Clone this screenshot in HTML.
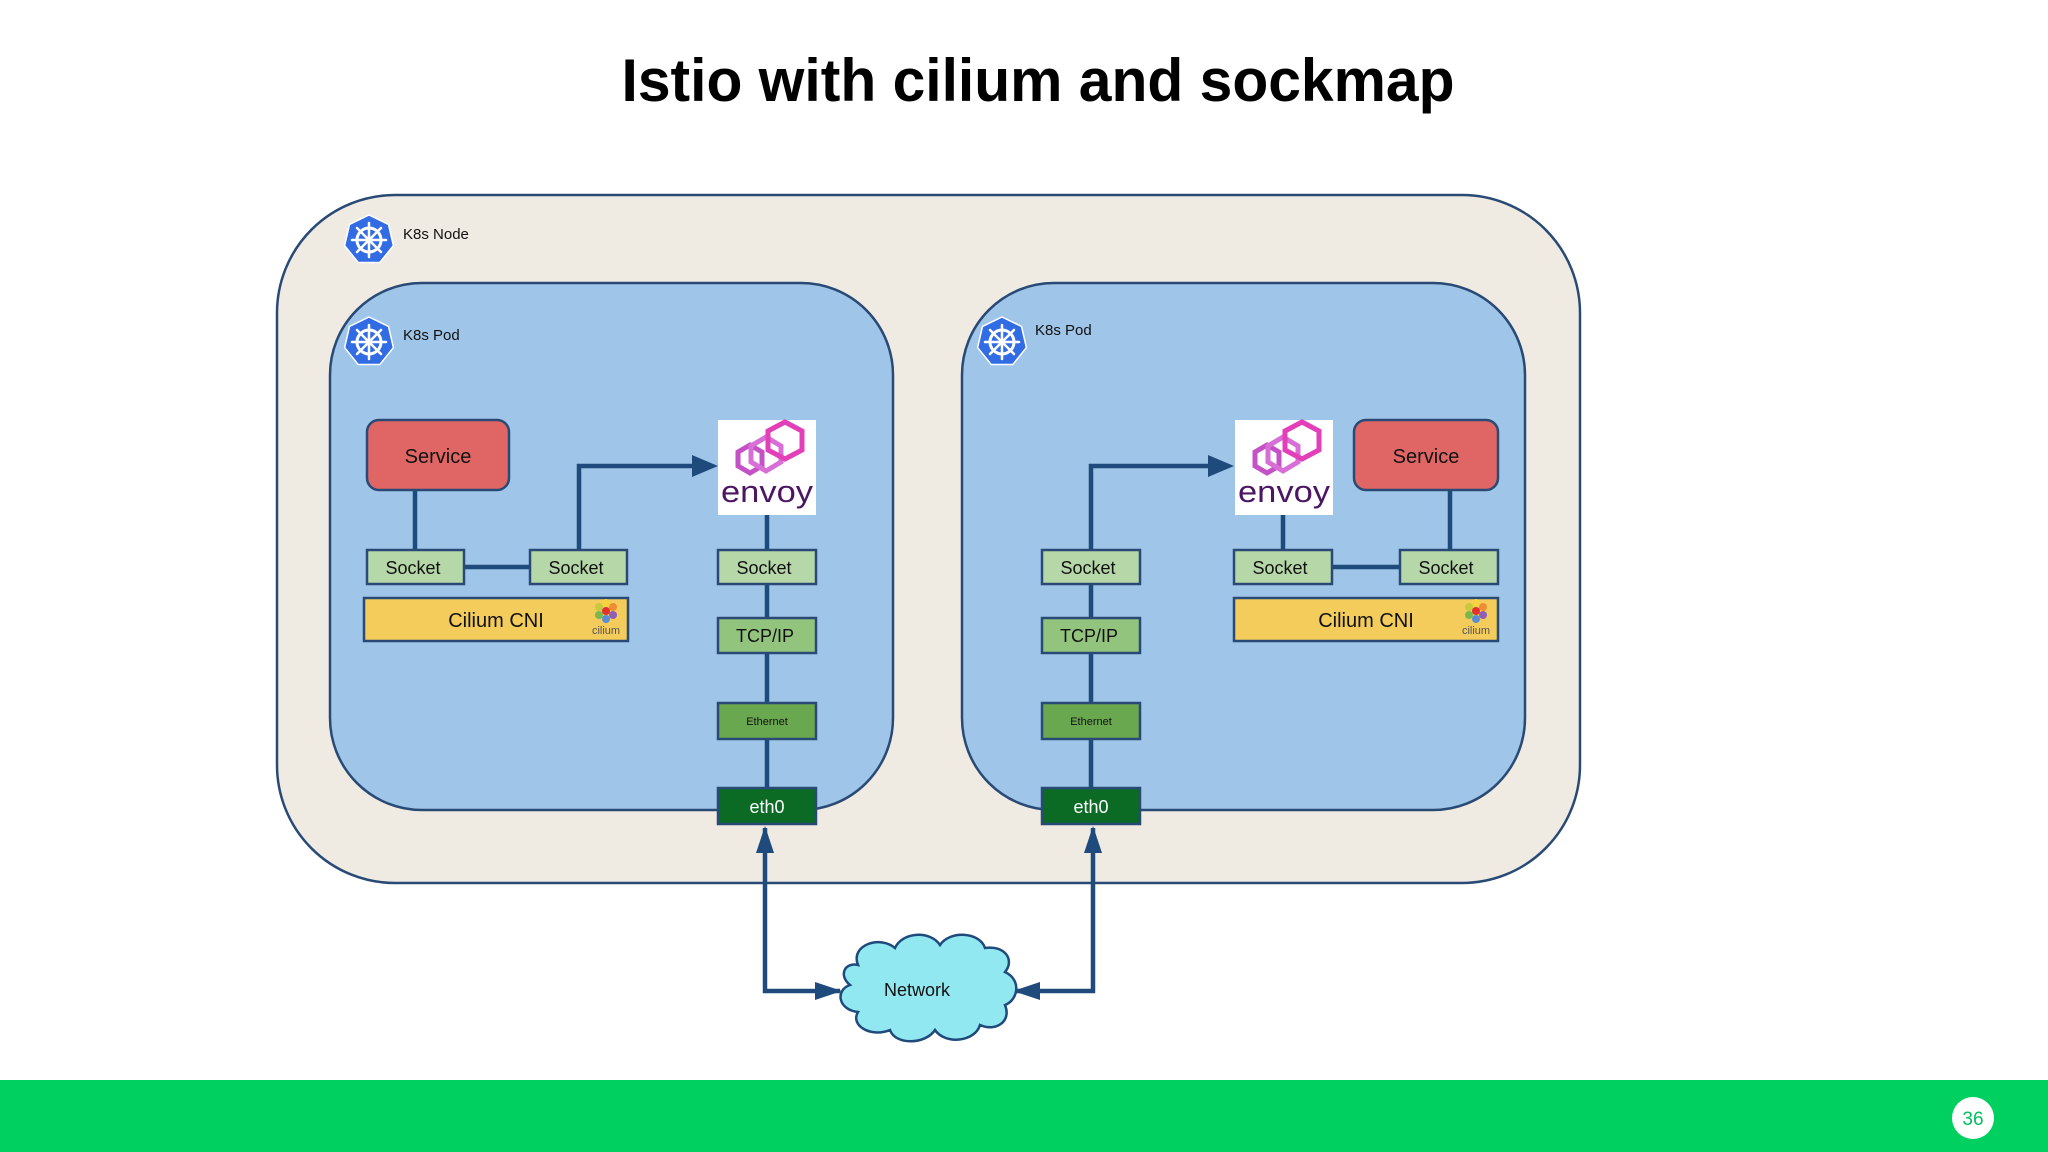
<!DOCTYPE html>
<html><head><meta charset="utf-8"><style>
html,body{margin:0;padding:0;background:#fff;}
svg{display:block;}
text{font-family:"Liberation Sans",Arial,sans-serif;}
</style></head><body>
<svg width="2048" height="1152" viewBox="0 0 2048 1152" xmlns="http://www.w3.org/2000/svg">
<defs>
<g id="k8s">
<polygon points="0,-25 19.5,-15.6 24.4,5.6 10.8,22.5 -10.8,22.5 -24.4,5.6 -19.5,-15.6" fill="#326ce5" stroke="#fff" stroke-width="1.5"/>
<circle r="12" fill="none" stroke="#fff" stroke-width="3"/>
<circle r="3.5" fill="#fff"/>
<g stroke="#fff" stroke-width="2.5" stroke-linecap="round">
<line x1="0" y1="-17" x2="0" y2="17"/><line x1="-17" y1="0" x2="17" y2="0"/>
<line x1="-12" y1="-12" x2="12" y2="12"/><line x1="12" y1="-12" x2="-12" y2="12"/>
</g>
</g>
<g id="envoy">
<rect x="0" y="0" width="98" height="95" fill="#fff"/>
<polygon points="20,32 32,25 44,32 44,46 32,53 20,46" fill="none" stroke="#c452c6" stroke-width="5"/>
<polygon points="33,26 48,17 63,26 63,42 48,51 33,42" fill="none" stroke="#d86fd6" stroke-width="5"/>
<polygon points="50,11 67,2 84,11 84,30 67,39 50,30" fill="none" stroke="#e23fb8" stroke-width="5"/>
<text x="49" y="82" font-size="31" text-anchor="middle" fill="#4b1763" textLength="92" lengthAdjust="spacingAndGlyphs">envoy</text>
</g>
<g id="cil">
<circle cx="0" cy="-9" r="4" fill="#f6d33f"/><circle cx="7" cy="-5" r="4" fill="#f08c34"/>
<circle cx="7" cy="3" r="4" fill="#8e5fb5"/><circle cx="0" cy="7" r="4" fill="#5b8dd6"/>
<circle cx="-7" cy="3" r="4" fill="#7bb84c"/><circle cx="-7" cy="-5" r="4" fill="#c9c93d"/>
<circle cx="0" cy="-1" r="4" fill="#e2322c"/>
<text x="0" y="22" font-size="11" text-anchor="middle" fill="#555">cilium</text>
</g>
</defs>

<text x="1038" y="101" font-size="60" font-weight="bold" text-anchor="middle" textLength="833" lengthAdjust="spacingAndGlyphs" fill="#000">Istio with cilium and sockmap</text>

<!-- node -->
<rect x="277" y="195" width="1303" height="688" rx="118" fill="#efebe3" stroke="#2a4a76" stroke-width="2.5"/>
<use href="#k8s" x="369" y="240"/>
<text x="403" y="239" font-size="15" fill="#111">K8s Node</text>

<!-- pods -->
<rect x="330" y="283" width="563" height="527" rx="92" fill="#9fc5e8" stroke="#2a4a76" stroke-width="2.5"/>
<rect x="962" y="283" width="563" height="527" rx="92" fill="#9fc5e8" stroke="#2a4a76" stroke-width="2.5"/>
<use href="#k8s" x="369" y="342"/>
<text x="403" y="340" font-size="15" fill="#111">K8s Pod</text>
<use href="#k8s" x="1002" y="342"/>
<text x="1035" y="335" font-size="15" fill="#111">K8s Pod</text>

<!-- connectors -->
<g stroke="#1f4a7c" stroke-width="4.5" fill="none">
<line x1="415" y1="490" x2="415" y2="550"/>
<line x1="464" y1="567" x2="530" y2="567"/>
<polyline points="579,550 579,466 700,466"/>
<line x1="767" y1="515" x2="767" y2="788"/>
<polyline points="1091,550 1091,466 1216,466"/>
<line x1="1091" y1="584" x2="1091" y2="788"/>
<line x1="1283" y1="514" x2="1283" y2="550"/>
<line x1="1332" y1="567" x2="1400" y2="567"/>
<line x1="1450" y1="490" x2="1450" y2="550"/>
<polyline points="840,991 765,991 765,828"/>
<polyline points="1015,991 1093,991 1093,828"/>
</g>
<g fill="#1f4a7c">
<polygon points="718,466 692,455 692,477"/>
<polygon points="1234,466 1208,455 1208,477"/>
<polygon points="765,826 756,853 774,853"/>
<polygon points="1093,826 1084,853 1102,853"/>
<polygon points="842,991 815,982 815,1000"/>
<polygon points="1013,991 1040,982 1040,1000"/>
</g>

<g stroke="#2a4a76" stroke-width="2.5">
<rect x="367" y="420" width="142" height="70" rx="12" fill="#e06666"/>
<rect x="367" y="550" width="97" height="34" fill="#b6d7a8"/>
<rect x="530" y="550" width="97" height="34" fill="#b6d7a8"/>
<rect x="364" y="598" width="264" height="43" fill="#f3cc5c"/>
<rect x="718" y="550" width="98" height="34" fill="#b6d7a8"/>
<rect x="718" y="618" width="98" height="35" fill="#93c47d"/>
<rect x="718" y="703" width="98" height="36" fill="#6aa84f"/>
<rect x="718" y="788" width="98" height="36" fill="#0b6b25"/>

<rect x="1354" y="420" width="144" height="70" rx="12" fill="#e06666"/>
<rect x="1042" y="550" width="98" height="34" fill="#b6d7a8"/>
<rect x="1234" y="550" width="98" height="34" fill="#b6d7a8"/>
<rect x="1400" y="550" width="98" height="34" fill="#b6d7a8"/>
<rect x="1234" y="598" width="264" height="43" fill="#f3cc5c"/>
<rect x="1042" y="618" width="98" height="35" fill="#93c47d"/>
<rect x="1042" y="703" width="98" height="36" fill="#6aa84f"/>
<rect x="1042" y="788" width="98" height="36" fill="#0b6b25"/>
</g>
<use href="#envoy" x="718" y="420"/>
<use href="#envoy" x="1235" y="420"/>
<use href="#cil" x="606" y="612"/>
<use href="#cil" x="1476" y="612"/>

<g font-size="18" fill="#111" text-anchor="middle">
<text x="438" y="463" font-size="20">Service</text>
<text x="1426" y="463" font-size="20">Service</text>
<text x="413" y="574">Socket</text>
<text x="576" y="574">Socket</text>
<text x="764" y="574">Socket</text>
<text x="1088" y="574">Socket</text>
<text x="1280" y="574">Socket</text>
<text x="1446" y="574">Socket</text>
<text x="496" y="627" font-size="20">Cilium CNI</text>
<text x="1366" y="627" font-size="20">Cilium CNI</text>
<text x="765" y="642">TCP/IP</text>
<text x="1089" y="642">TCP/IP</text>
<text x="767" y="725" font-size="11">Ethernet</text>
<text x="1091" y="725" font-size="11">Ethernet</text>
<text x="767" y="813" fill="#fff">eth0</text>
<text x="1091" y="813" fill="#fff">eth0</text>
</g>

<!-- cloud -->
<path d="M858,965 C850,945 880,935 895,948 C902,932 930,930 940,945 C950,930 980,932 985,948 C1005,945 1015,960 1005,972 C1022,980 1018,1000 1005,1005 C1012,1022 995,1032 980,1025 C975,1042 945,1045 935,1030 C925,1045 895,1045 890,1030 C870,1038 850,1025 858,1012 C838,1010 835,990 850,985 C838,975 845,962 858,965 Z" fill="#92e8f0" stroke="#1f4a7c" stroke-width="2.5"/>
<text x="917" y="996" font-size="18" text-anchor="middle" fill="#111">Network</text>

<!-- footer -->
<rect x="0" y="1080" width="2048" height="72" fill="#00d060"/>
<circle cx="1973" cy="1118" r="21" fill="#fff"/>
<text x="1973" y="1125" font-size="19" text-anchor="middle" fill="#00c060">36</text>
</svg>
</body></html>
